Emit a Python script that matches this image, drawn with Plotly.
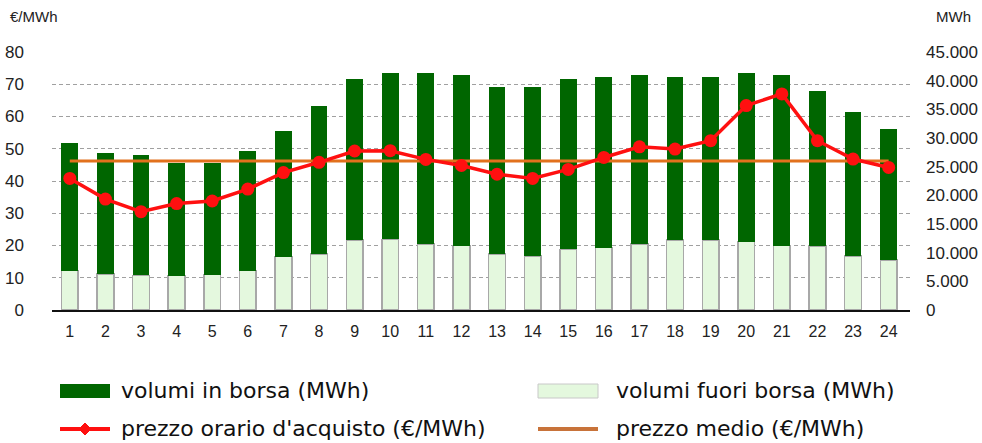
import plotly.graph_objects as go

# Hourly data (hours 1-24)
hours = list(range(1, 25))
volumi_fuori_borsa = [6860, 6280, 6050, 6000, 6160, 6860, 9300, 9770, 12210, 12330, 11510, 11220,
                      9770, 9420, 10580, 10870, 11510, 12210, 12210, 11920, 11220, 11160, 9420, 8720]
volumi_totali = [29180, 27330, 26980, 25700, 25700, 27780, 31270, 35580, 40230, 41390, 41390, 41040,
                 38950, 38950, 40350, 40700, 41040, 40700, 40700, 41390, 41040, 38140, 34530, 31630]
volumi_in_borsa = [t - f for t, f in zip(volumi_totali, volumi_fuori_borsa)]
prezzo_orario = [40.8, 34.4, 30.5, 33.0, 33.8, 37.5, 42.6, 45.8, 49.3, 49.4, 46.7, 44.8,
                 42.1, 40.8, 43.6, 47.3, 50.6, 49.9, 52.5, 63.4, 67.0, 52.5, 46.8, 44.2]
prezzo_medio = 46.2

price_max, volume_max = 80, 45000
price_ticks = list(range(0, 90, 10))
volume_ticks = list(range(0, 50000, 5000))
# price gridlines expressed on the volume scale (both axes share the same height)
grid_on_volume = [v * volume_max / price_max for v in price_ticks]

DARK_GREEN = "#006600"
LIGHT_GREEN = "#E4F8DE"
RED = "#FF1010"
ORANGE = "#E2711D"
FONT = "Liberation Sans, Arial, sans-serif"
LEGEND_FONT = "DejaVu Sans, sans-serif"

W, H = 982, 443
L, R, T, B = 52, 910, 52, 310


def px(x):
    return (x - L) / (R - L)


def py(y):
    return (B - y) / (B - T)


fig = go.Figure()

# volumes on the base axis (drawn below), prices on the overlay axis (drawn on top)
fig.add_trace(go.Bar(
    x=hours, y=volumi_fuori_borsa, yaxis="y", width=0.47,
    marker=dict(color=LIGHT_GREEN, line=dict(color="#A8A8A8", width=1.5)),
    name="volumi fuori borsa (MWh)", showlegend=False))
fig.add_trace(go.Bar(
    x=hours, y=volumi_in_borsa, yaxis="y", width=0.47,
    marker=dict(color=DARK_GREEN, line=dict(width=0)),
    name="volumi in borsa (MWh)", showlegend=False))
fig.add_trace(go.Scatter(
    x=hours, y=[prezzo_medio] * len(hours), yaxis="y2", mode="lines",
    line=dict(color=ORANGE, width=3),
    name="prezzo medio (€/MWh)", showlegend=False))
fig.add_trace(go.Scatter(
    x=hours, y=prezzo_orario, yaxis="y2", mode="lines+markers",
    line=dict(color=RED, width=3.5),
    marker=dict(color=RED, size=13),
    name="prezzo orario d'acquisto (€/MWh)", showlegend=False))

# Legend drawn as shapes + text, two columns
shapes = []
annotations = []
legend_font = dict(family=LEGEND_FONT, size=22, color="#111")

shapes.append(dict(type="rect", xref="paper", yref="paper",
                   x0=px(60), x1=px(110), y0=py(384), y1=py(398),
                   fillcolor=DARK_GREEN, line=dict(width=0)))
shapes.append(dict(type="rect", xref="paper", yref="paper",
                   x0=px(538), x1=px(598), y0=py(384), y1=py(398),
                   fillcolor=LIGHT_GREEN, line=dict(color="#C8C8C8", width=1)))
shapes.append(dict(type="line", xref="paper", yref="paper",
                   x0=px(60), x1=px(110), y0=py(429), y1=py(429),
                   line=dict(color=RED, width=4)))
shapes.append(dict(type="path", xref="paper", yref="paper",
                   path="M {a},{b} L {c},{d} L {e},{b} L {c},{f} Z".format(
                       a=px(79), b=py(429), c=px(85), d=py(423), e=px(91), f=py(435)),
                   fillcolor=RED, line=dict(color=RED, width=1)))
shapes.append(dict(type="line", xref="paper", yref="paper",
                   x0=px(538), x1=px(598), y0=py(429), y1=py(429),
                   line=dict(color="#C8733A", width=4)))

for text, x, y in [("volumi in borsa (MWh)", 119, 390),
                   ("volumi fuori borsa (MWh)", 614, 390),
                   ("prezzo orario d'acquisto (€/MWh)", 119, 428),
                   ("prezzo medio (€/MWh)", 614, 428)]:
    annotations.append(dict(text=text, xref="paper", yref="paper", x=px(x), y=py(y),
                            xanchor="left", yanchor="middle", showarrow=False,
                            font=legend_font))

annotations.append(dict(text="€/MWh", xref="paper", yref="paper", x=px(8), y=py(17),
                        xanchor="left", yanchor="middle", showarrow=False,
                        font=dict(family=FONT, size=15, color="#222")))
annotations.append(dict(text="MWh", xref="paper", yref="paper", x=px(934), y=py(17),
                        xanchor="left", yanchor="middle", showarrow=False,
                        font=dict(family=FONT, size=15, color="#222")))

tick_font = dict(family=FONT, size=17, color="#222")

fig.update_layout(
    width=W, height=H,
    margin=dict(l=L, r=W - R, t=T, b=H - B, pad=0, autoexpand=False),
    paper_bgcolor="white", plot_bgcolor="white",
    barmode="stack", separators=",.",
    showlegend=False,
    shapes=shapes, annotations=annotations,
    xaxis=dict(range=[0.5, 24.6], tickvals=hours, ticktext=[str(h) for h in hours],
               showgrid=False, zeroline=False, showline=True, linecolor="#111", linewidth=2,
               ticks="", tickfont=dict(family=FONT, size=16, color="#222"),
               ticklabelstandoff=6, automargin=False),
    yaxis=dict(range=[0, volume_max], tickvals=volume_ticks, tickformat=",d",
               side="right", showgrid=False, zeroline=False, showline=False,
               ticks="", tickfont=tick_font, ticklabelstandoff=15, automargin=False,
               minor=dict(tickvals=grid_on_volume, showgrid=True, gridcolor="#A0A0A0",
                          griddash="4px,3px", gridwidth=1, ticks="")),
    yaxis2=dict(range=[0, price_max], tickvals=price_ticks, overlaying="y", side="left",
                showgrid=False, zeroline=False, showline=False,
                ticks="", tickfont=tick_font, ticklabelstandoff=27, automargin=False),
)

fig.write_html("out.html")
